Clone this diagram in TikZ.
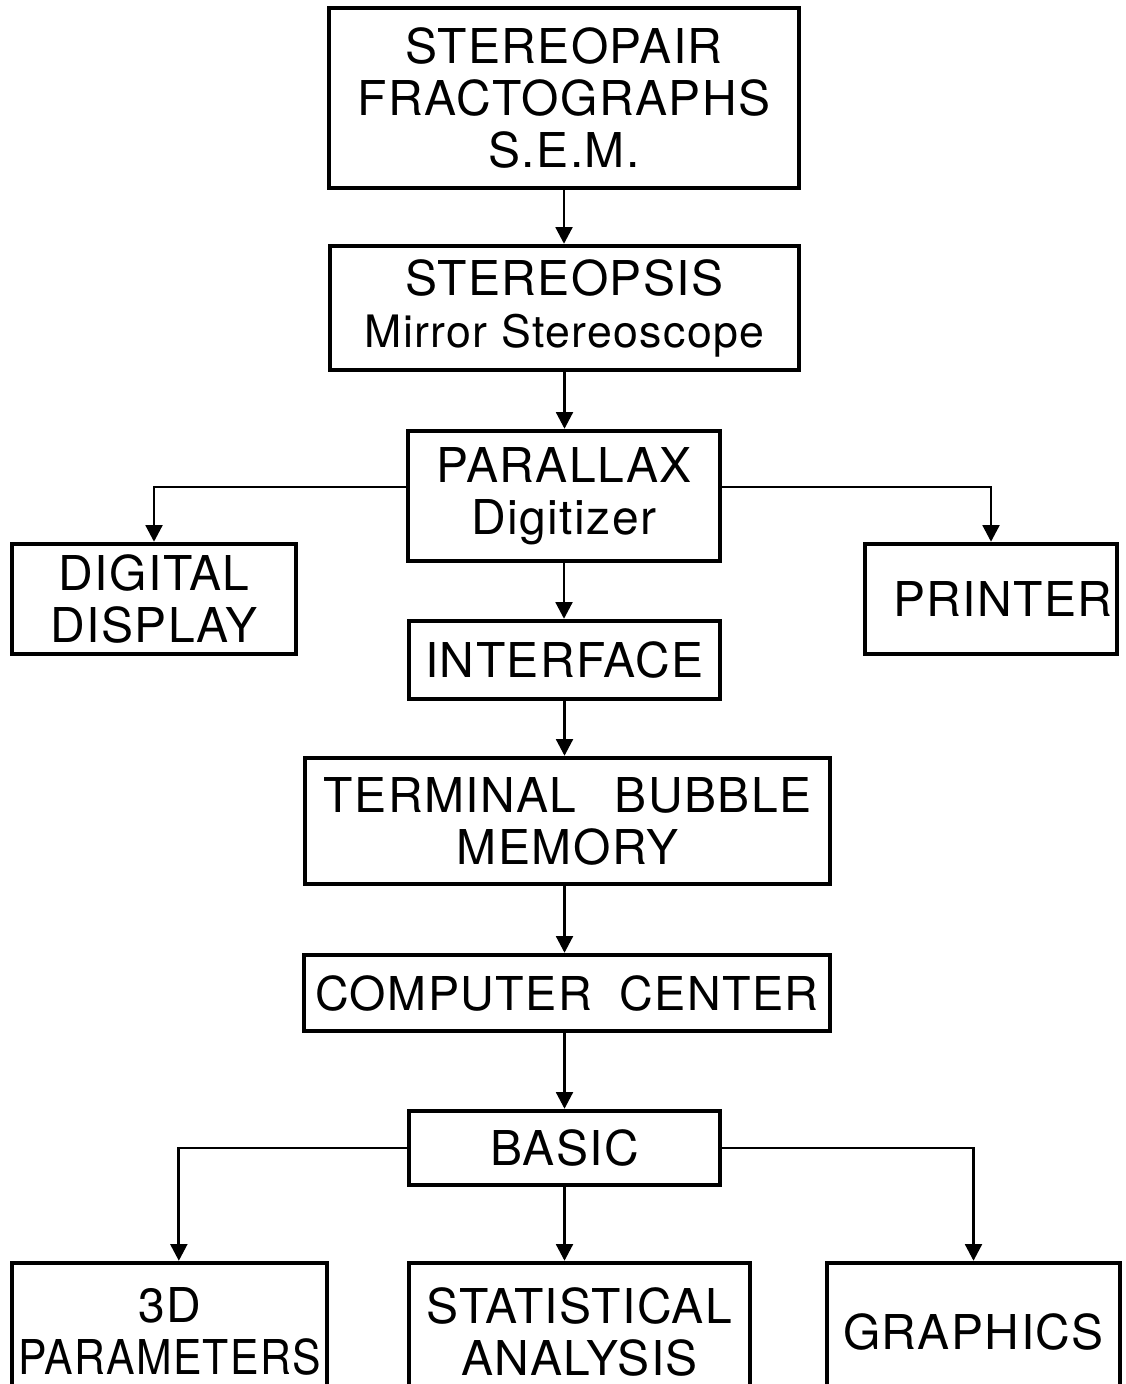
\documentclass[tikz,border=0pt]{standalone}
\usepackage{fontspec}
\usepackage{graphicx}
\setmainfont[LetterSpace=3]{TeX Gyre Heros}
\usetikzlibrary{arrows.meta}

\tikzset{every picture/.style={line width=0.75pt}}
\tikzset{
  blk/.style={draw, line width=3.3pt, align=center, inner sep=0pt, font=\fontsize{36}{39}\selectfont},
  lnk/.style={line width=2.2pt, -{Triangle[length=12.5pt,width=12.5pt]}},
}

\begin{document}
\begin{tikzpicture}[x=0.75pt,y=0.75pt,yscale=-1,xscale=1]
%set diagram size 1126 x 1384, bottom boxes run off the page
\clip (0,0) rectangle (1126,1384);

% Boxes
\node [blk, minimum width=352.5pt, minimum height=135pt] (sem) at (564,98) {STEREOPAIR\\FRACTOGRAPHS\\S.E.M.};
\node [blk, minimum width=351.75pt, minimum height=93pt] (stereo) at (564.5,308) {STEREOPSIS\\{\fontsize{33.5}{39}\selectfont Mirror Stereoscope}};
\node [blk, minimum width=234pt, minimum height=97.5pt] (parallax) at (564,496) {PARALLAX\\Digitizer};
\node [blk, minimum width=213pt, minimum height=82.5pt] (display) at (154,599) {DIGITAL\\DISPLAY};
\node [blk, minimum width=189pt, minimum height=82.5pt] (printer) at (991,599) {\hspace*{18pt}PRINTER};
\node [blk, minimum width=233.25pt, minimum height=58.5pt] (iface) at (564.5,660) {INTERFACE};
\node [blk, minimum width=393.75pt, minimum height=94.5pt] (terminal) at (567.5,821) {TERMINAL\hspace{0.8em}BUBBLE\\MEMORY};
\node [blk, minimum width=394.5pt, minimum height=57pt] (computer) at (567,993) {{\fontsize{35}{39}\selectfont COMPUTER\hspace{0.6em}CENTER}};
\node [blk, minimum width=233.25pt, minimum height=55.5pt] (basic) at (564.5,1148) {BASIC};
\node [blk, minimum width=236.25pt, minimum height=102.75pt] (params) at (169.5,1331.5) {3D\\\scalebox{0.89}[1]{PARAMETERS}};
\node [blk, minimum width=255.75pt, minimum height=102.75pt] (stats) at (579.5,1331.5) {STATISTICAL\\ANALYSIS};
\node [blk, minimum width=219.75pt, minimum height=102.75pt] (graphics) at (973.5,1331.5) {GRAPHICS};

% Arrows
\draw [lnk] (sem.south) -- (sem.south |- stereo.north);
\draw [lnk] (stereo.south) -- (stereo.south |- parallax.north);
\draw [lnk] ([yshift=-6.75pt]parallax.west) -| (display.north);
\draw [lnk] ([yshift=-6.75pt]parallax.east) -| (printer.north);
\draw [lnk] (parallax.south) -- (parallax.south |- iface.north);
\draw [lnk] (iface.south) -- (iface.south |- terminal.north);
\draw [lnk] (terminal.south -| basic) -- (basic |- computer.north);
\draw [lnk] (computer.south -| basic) -- (basic.north);
\draw [lnk] (basic.west) -| ([xshift=7pt]params.north);
\draw [lnk] (basic.south) -- (basic.south |- stats.north);
\draw [lnk] (basic.east) -| (graphics.north);

\end{tikzpicture}
\end{document}
